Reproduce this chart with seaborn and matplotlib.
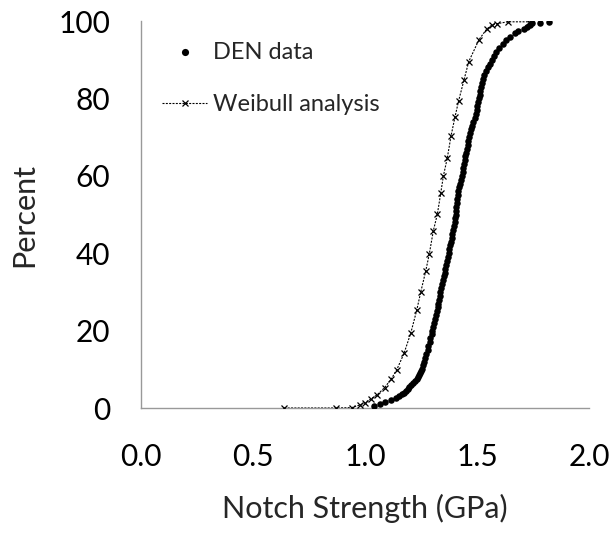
import matplotlib
matplotlib.use("Agg")
import matplotlib.pyplot as plt
import seaborn as sns
import pandas as pd

den_strength = [1.04, 1.065, 1.09, 1.115, 1.14, 1.152, 1.163, 1.174, 1.183, 1.19, 1.198, 1.207,
                1.216, 1.224, 1.23, 1.236, 1.241, 1.246, 1.251,
                1.254, 1.259, 1.264, 1.269, 1.274, 1.279, 1.283, 1.288, 1.292, 1.297,
                1.301, 1.305, 1.31, 1.314, 1.317, 1.32, 1.324, 1.327, 1.33, 1.333,
                1.336, 1.34, 1.343, 1.347, 1.351, 1.355, 1.358, 1.362, 1.365, 1.369,
                1.373, 1.376, 1.38, 1.383, 1.387, 1.39, 1.393, 1.397, 1.4, 1.403,
                1.405, 1.407, 1.408, 1.41, 1.411, 1.413, 1.417, 1.421, 1.426, 1.43,
                1.433, 1.436, 1.439, 1.442, 1.445, 1.448, 1.452, 1.455, 1.458, 1.462,
                1.466, 1.469, 1.474, 1.479, 1.484, 1.489, 1.494, 1.499, 1.502, 1.505,
                1.508, 1.512, 1.515, 1.518, 1.521, 1.527, 1.533, 1.54, 1.549, 1.558,
                1.566, 1.575, 1.585, 1.6, 1.615, 1.63, 1.648, 1.67, 1.685, 1.71,
                1.725, 1.735, 1.745, 1.78, 1.82]
den_percent = [0.5, 1.0, 1.5, 2.0, 2.5, 3.0, 3.5, 4.0, 4.5, 5.0, 5.5, 6.0,
               6.5, 7.0, 7.5, 8.0, 8.5, 9.0, 9.5,
               10, 11, 12, 13, 14, 15, 16, 17, 18, 19,
               20, 21, 22, 23, 24, 25, 26, 27, 28, 29,
               30, 31, 32, 33, 34, 35, 36, 37, 38, 39,
               40, 41, 42, 43, 44, 45, 46, 47, 48, 49,
               50, 51, 52, 53, 54, 55, 56, 57, 58, 59,
               60, 61, 62, 63, 64, 65, 66, 67, 68, 69,
               70, 71, 72, 73, 74, 75, 76, 77, 78, 79,
               80, 81, 82, 83, 84, 85, 86, 87, 88, 89,
               90, 91, 92, 93, 94, 95, 96, 97, 97.5, 98.0,
               98.5, 99.0, 99.4, 99.6, 99.7]

weib_strength = [0.64, 0.87, 0.94, 0.978, 1.0, 1.027, 1.054, 1.088, 1.117, 1.141, 1.174,
                 1.204, 1.231, 1.249, 1.271, 1.287, 1.305, 1.323, 1.338, 1.35, 1.367, 1.384,
                 1.402, 1.418, 1.442, 1.463, 1.509, 1.543, 1.567, 1.588, 1.637, 1.732]
weib_percent = [0.0, 0.0, 0.1, 0.8, 1.4, 2.4, 3.4, 5.3, 7.5, 9.8, 14.1,
                19.3, 25.3, 30.0, 35.4, 39.8, 45.8, 50.1, 55.5, 60.0, 64.5, 70.3,
                75.3, 79.4, 84.8, 89.5, 95.2, 97.9, 99.0, 99.3, 99.8, 99.8]

x_ticks = [0.0, 0.5, 1.0, 1.5, 2.0]
y_ticks = [0, 20, 40, 60, 80, 100]

sns.set_style("white")
plt.rcParams['font.family'] = ['Lato', 'DejaVu Sans']

den = pd.DataFrame({"x": den_strength, "y": den_percent})
weib = pd.DataFrame({"x": weib_strength, "y": weib_percent})

fig = plt.figure(figsize=(6.11, 5.38), dpi=100)
ax = fig.add_axes([0.2308, 0.2416, 0.7332, 0.7193])

sns.lineplot(data=weib, x="x", y="y", ax=ax, sort=False, color="black",
             linestyle=(0, (1.8, 1.2)), linewidth=0.8, marker="x", markersize=4.5,
             markeredgewidth=0.9, markeredgecolor="black", label="Weibull analysis",
             zorder=3)
sns.scatterplot(data=den, x="x", y="y", ax=ax, color="black", s=22, edgecolor="black",
                linewidth=0, label="DEN data", zorder=4)

ax.set_xlim(0, 2.0)
ax.set_ylim(0, 100)
ax.set_xticks(x_ticks)
ax.set_xticklabels([f"{t:.1f}" for t in x_ticks])
ax.set_yticks(y_ticks)
ax.set_yticklabels([str(t) for t in y_ticks])
ax.tick_params(axis="both", labelsize=21.5, colors="#999999", labelcolor="black",
               direction="out", width=1)
ax.tick_params(axis="x", length=6.5, pad=19)
ax.tick_params(axis="y", length=8, pad=14)
for s in ["top", "right"]:
    ax.spines[s].set_visible(False)
for s in ["left", "bottom"]:
    ax.spines[s].set_color("#999999")
    ax.spines[s].set_linewidth(1)

ax.set_xlabel("Notch Strength (GPa)", fontsize=22, labelpad=16)
ax.set_ylabel("Percent", fontsize=22, labelpad=15)

handles, labels = ax.get_legend_handles_labels()
order = [labels.index("DEN data"), labels.index("Weibull analysis")]
leg = ax.legend([handles[i] for i in order], [labels[i] for i in order],
                loc="upper left", bbox_to_anchor=(0.047, 0.947), frameon=False,
                borderaxespad=0, borderpad=0,
                fontsize=17, handlelength=1.9, handletextpad=0.25, labelspacing=1.35,
                markerscale=1.1)

fig.savefig("out.png", dpi=100)
